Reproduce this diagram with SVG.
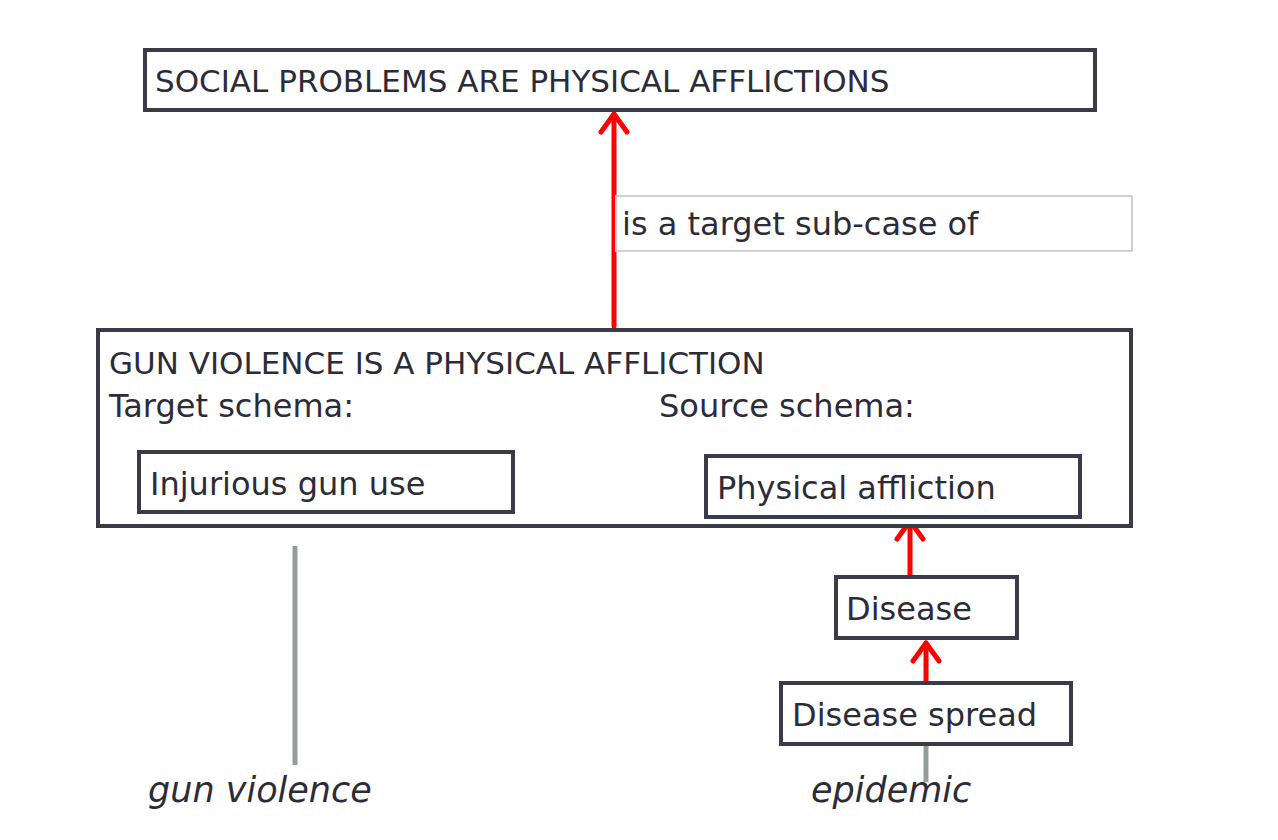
<svg xmlns="http://www.w3.org/2000/svg" width="1278" height="840" viewBox="0 0 1278 840">
<style>
.box{fill:#fff;stroke:#3a3b47;stroke-width:4;}
.t{font-family:"DejaVu Sans",sans-serif;font-size:32px;fill:#2b2c38;}
.cap{font-size:31px;}
.it{font-style:italic;font-size:35px;}
.red{stroke:#ff0000;stroke-width:5;fill:none;stroke-linecap:round;stroke-linejoin:round;}
.gray{stroke:#939e98;stroke-width:5;}
</style>
<rect width="1278" height="840" fill="#fff"/>
<g id="connectors">
<line class="red" x1="614" y1="326" x2="614" y2="114"/>
<polyline class="red" points="601,132 614,114 627,132"/>
<line class="red" x1="910" y1="576" x2="910" y2="521"/>
<polyline class="red" points="897,539 910,521 923,539"/>
<line class="red" x1="926" y1="682" x2="926" y2="643"/>
<polyline class="red" points="913,661 926,643 939,661"/>
<line class="gray" x1="295" y1="546" x2="295" y2="765"/>
<line class="gray" x1="926" y1="746" x2="926" y2="782"/>
<g id="edge-label">
<rect x="616" y="196" width="516" height="55" fill="#fff" stroke="#d0d0d0" stroke-width="2"/>
<text class="t" x="622" y="235">is a target sub-case of</text>
</g>
</g>
<g id="social">
<rect class="box" x="145" y="50" width="950" height="60"/>
<text class="t cap" x="155" y="92">SOCIAL PROBLEMS ARE PHYSICAL AFFLICTIONS</text>
</g>
<g id="gun">
<rect class="box" x="98" y="330" width="1033" height="196"/>
<text class="t cap" x="109" y="374">GUN VIOLENCE IS A PHYSICAL AFFLICTION</text>
<text class="t" x="109" y="417">Target schema:</text>
<text class="t" x="659" y="417">Source schema:</text>
</g>
<g id="injurious">
<rect class="box" x="139" y="452" width="374" height="60"/>
<text class="t" x="150" y="495">Injurious gun use</text>
</g>
<g id="physical">
<rect class="box" x="706" y="456" width="374" height="61"/>
<text class="t" x="717" y="499">Physical affliction</text>
</g>
<g id="disease">
<rect class="box" x="836" y="577" width="181" height="61"/>
<text class="t" x="846" y="620">Disease</text>
</g>
<g id="spread">
<rect class="box" x="781" y="683" width="290" height="61"/>
<text class="t" x="792" y="726">Disease spread</text>
</g>
<g id="words">
<text class="t it" x="148" y="802">gun violence</text>
<text class="t it" x="811" y="802">epidemic</text>
</g>
</svg>
